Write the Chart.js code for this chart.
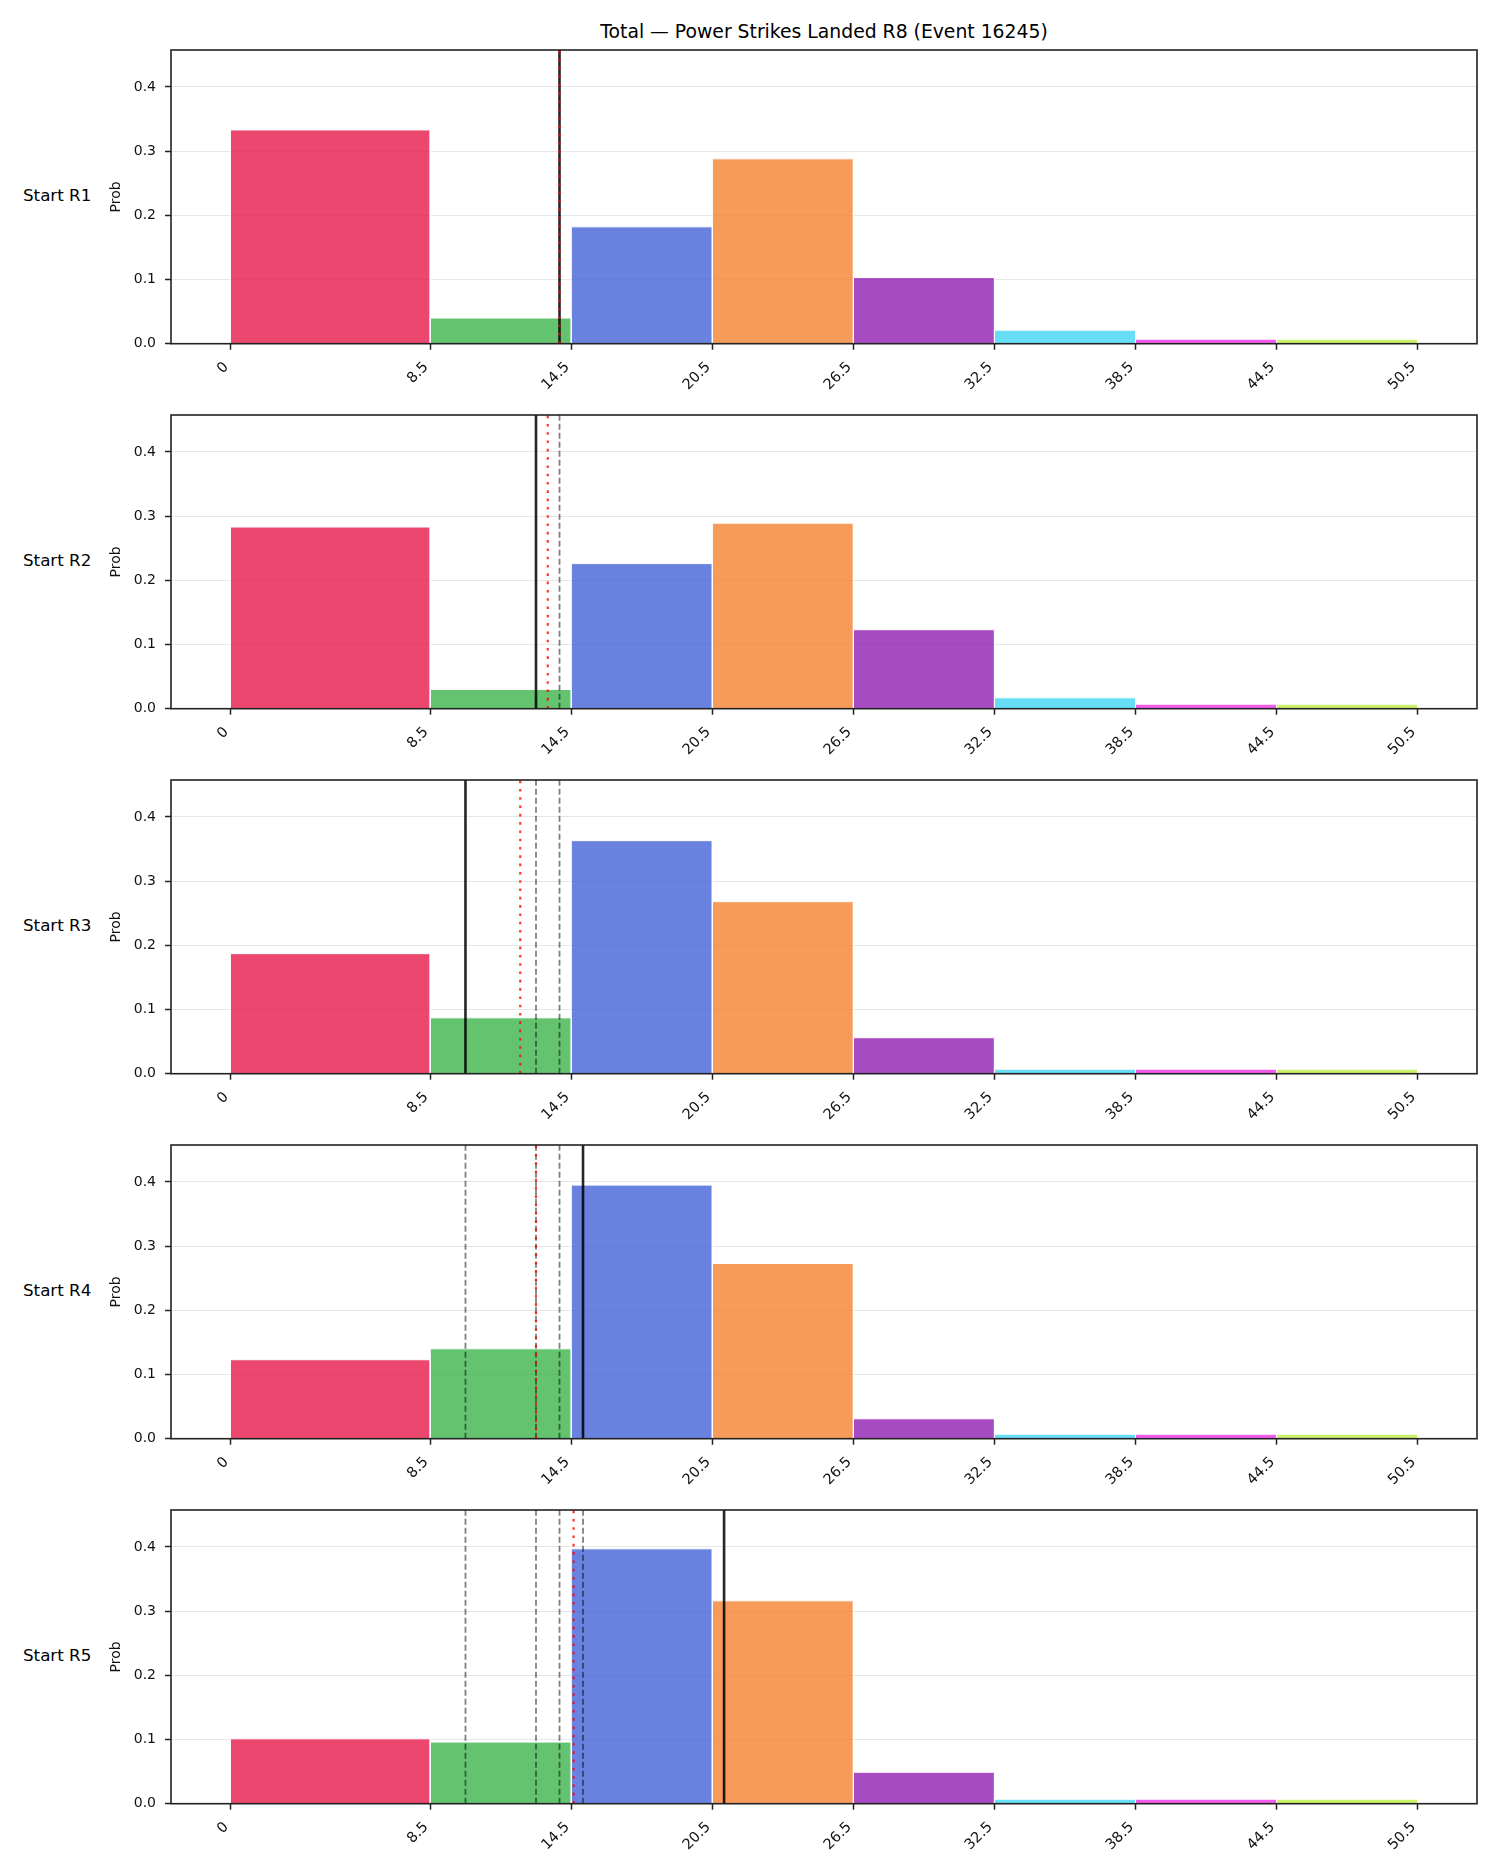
<!DOCTYPE html>
<html>
<head>
<meta charset="utf-8">
<title>Total — Power Strikes Landed R8</title>
<script src="https://cdn.jsdelivr.net/npm/chart.js@4.4.1/dist/chart.umd.min.js"></script>
<style>
  html, body { margin: 0; padding: 0; background: #fff; }
  body { width: 1500px; height: 1875px; position: relative; overflow: hidden; font-family: 'DejaVu Sans', sans-serif; }
  .title { position: absolute; left: 171px; width: 1306px; top: 20px; text-align: center; font-size: 18.8px; line-height: 24px; color: #000; }
  .rowlabel { position: absolute; left: 23px; font-size: 16.7px; line-height: 22px; color: #000; }
  canvas { position: absolute; left: 0; }
</style>
</head>
<body>
<div class="title">Total — Power Strikes Landed R8 (Event 16245)</div>
<div id="wrap"></div>
<script>
// Data
const rowLabels = ['Start R1', 'Start R2', 'Start R3', 'Start R4', 'Start R5'];
const binEdges = [0, 8.5, 14.5, 20.5, 26.5, 32.5, 38.5, 44.5, 50.5];
const xTickLabels = ['0', '8.5', '14.5', '20.5', '26.5', '32.5', '38.5', '44.5', '50.5'];
const yTicks = [0, 0.1, 0.2, 0.3, 0.4];
const binColors = [
    'rgba(230,25,75,0.8)',
    'rgba(60,180,75,0.8)',
    'rgba(67,99,216,0.8)',
    'rgba(245,130,49,0.8)',
    'rgba(145,30,180,0.8)',
    'rgba(66,212,244,0.8)',
    'rgba(240,50,230,0.8)',
    'rgba(191,239,69,0.8)'
];
const probR1 = [0.333, 0.040, 0.182, 0.288, 0.103, 0.021, 0.007, 0.007];
const probR2 = [0.283, 0.030, 0.226, 0.289, 0.123, 0.017, 0.007, 0.007];
const probR3 = [0.187, 0.087, 0.363, 0.268, 0.056, 0.007, 0.007, 0.007];
const probR4 = [0.123, 0.140, 0.395, 0.273, 0.031, 0.007, 0.007, 0.007];
const probR5 = [0.101, 0.096, 0.397, 0.316, 0.049, 0.007, 0.007, 0.007];
const actualLines = [14, 13, 10, 15, 21];          // solid black line per start
const meanLines = [14.0, 13.5, 12.33, 13.0, 14.6];  // red dotted line per start
const xMin = -2.525, xMax = 53.025, yMax = 0.4575;

const panels = [probR1, probR2, probR3, probR4, probR5];

// Layout
const panelTop = 50, panelPitch = 365, plotHeight = 293.7, padTop = 20;

const framePlugin = {
    id: 'frame',
    afterDraw(chart) {
        const { ctx, chartArea: a } = chart;
        ctx.save();
        ctx.strokeStyle = '#222';
        ctx.lineWidth = 1.6;
        ctx.strokeRect(a.left, a.top, a.right - a.left, a.bottom - a.top);
        ctx.restore();
    }
};

function vline(x, style, order) {
    return Object.assign({
        data: [{ x: x, y: 0 }, { x: x, y: yMax }],
        pointRadius: 0,
        fill: false,
        order: order
    }, style);
}

const wrap = document.getElementById('wrap');

panels.forEach((probs, i) => {
    const top = panelTop + panelPitch * i;

    const lab = document.createElement('div');
    lab.className = 'rowlabel';
    lab.style.top = (top + plotHeight / 2 - 13) + 'px';
    lab.textContent = rowLabels[i];
    wrap.appendChild(lab);

    const canvas = document.createElement('canvas');
    canvas.width = 1500;
    canvas.height = panelPitch;
    canvas.style.top = (top - padTop) + 'px';
    canvas.style.width = '1500px';
    canvas.style.height = panelPitch + 'px';
    wrap.appendChild(canvas);

    const datasets = [];

    // red dotted running mean
    datasets.push(vline(meanLines[i], {
        borderColor: 'rgba(255,0,0,0.8)', borderWidth: 2.2, borderDash: [2.6, 5.7]
    }, 0));
    // solid black current value
    datasets.push(vline(actualLines[i], {
        borderColor: 'rgba(0,0,0,0.85)', borderWidth: 2.6
    }, 1));
    // grey dashed previous values
    for (let k = 0; k < i; k++) {
        datasets.push(vline(actualLines[k], {
            borderColor: 'rgba(0,0,0,0.5)', borderWidth: 1.8, borderDash: [6, 3]
        }, 2));
    }
    // histogram bins
    probs.forEach((p, b) => {
        datasets.push({
            data: [
                { x: binEdges[b], y: 0 },
                { x: binEdges[b], y: p },
                { x: binEdges[b + 1], y: p },
                { x: binEdges[b + 1], y: 0 }
            ],
            backgroundColor: binColors[b],
            borderColor: '#ffffff',
            borderWidth: 1,
            pointRadius: 0,
            tension: 0,
            fill: 'origin',
            order: 3
        });
    });

    new Chart(canvas, {
        type: 'line',
        data: { datasets: datasets },
        plugins: [framePlugin],
        options: {
            responsive: false,
            animation: false,
            devicePixelRatio: 1,
            layout: { padding: { top: padTop, right: 23, left: 108, bottom: 0 } },
            plugins: {
                legend: { display: false },
                tooltip: { enabled: false }
            },
            scales: {
                x: {
                    type: 'linear',
                    min: xMin,
                    max: xMax,
                    afterBuildTicks: s => { s.ticks = binEdges.map(v => ({ value: v })); },
                    afterFit: s => { s.height = panelPitch - padTop - plotHeight; },
                    border: { display: false },
                    grid: { drawOnChartArea: false, drawTicks: true, tickLength: 6, tickColor: '#222', tickWidth: 1.5 },
                    ticks: {
                        autoSkip: false,
                        minRotation: 45,
                        maxRotation: 45,
                        padding: 9,
                        labelOffset: -4,
                        color: '#111',
                        font: { family: 'DejaVu Sans', size: 14.5 },
                        callback: (v, idx) => xTickLabels[idx]
                    }
                },
                y: {
                    min: 0,
                    max: yMax,
                    afterBuildTicks: s => { s.ticks = yTicks.map(v => ({ value: v })); },
                    afterFit: s => { s.width = 63; },
                    border: { display: false },
                    grid: { color: '#e6e6e6', lineWidth: 1, drawTicks: true, tickLength: 6, tickColor: '#222', tickWidth: 1.5 },
                    ticks: {
                        padding: 9,
                        color: '#111',
                        font: { family: 'DejaVu Sans', size: 14 },
                        callback: v => v.toFixed(1)
                    },
                    title: {
                        display: true,
                        text: 'Prob',
                        color: '#111',
                        padding: { top: 0, bottom: 0 },
                        font: { family: 'DejaVu Sans', size: 14 }
                    }
                }
            }
        }
    });
});
</script>
</body>
</html>
